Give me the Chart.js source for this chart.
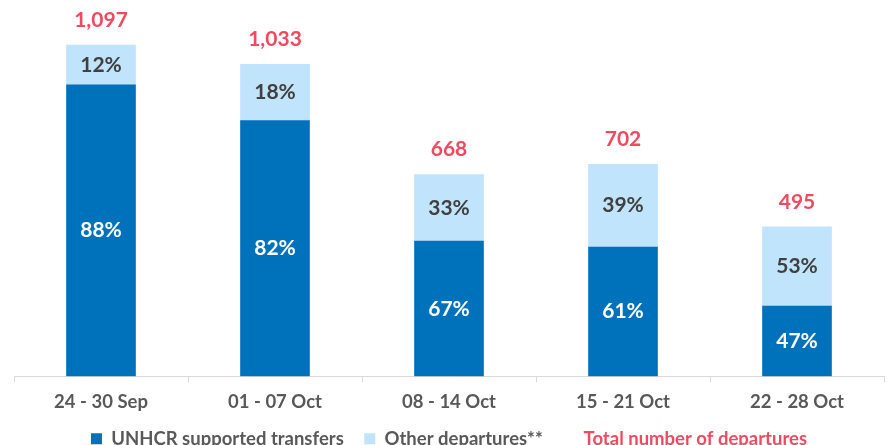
<!DOCTYPE html>
<html>
<head>
<meta charset="utf-8">
<script src="https://cdn.jsdelivr.net/npm/chart.js@4.4.1/dist/chart.umd.min.js"></script>
<style>
  html, body { margin: 0; padding: 0; background: #fff; overflow: hidden; }
  #wrap { position: relative; width: 895px; height: 458px; }
</style>
</head>
<body>
<div id="wrap"><canvas id="id-chartDepartures"></canvas></div>
<script>
var weekLabels = ["24 - 30 Sep", "01 - 07 Oct", "08 - 14 Oct", "15 - 21 Oct", "22 - 28 Oct"];
var totalDepartures = [1097, 1033, 668, 702, 495];
var unhcrShare = [88, 82, 67, 61, 47];
var otherShare = [12, 18, 33, 39, 53];

var darkBlue = "#0072BC";
var lightBlue = "#BFE4FC";
var red = "#EF4A60";
var textGrey = "#595959";

// stacked amounts come from the total times each share
var unhcrValues = totalDepartures.map(function(t, i) { return t * unhcrShare[i] / 100; });
var otherValues = totalDepartures.map(function(t, i) { return t * otherShare[i] / 100; });

var labelPlugin = {
  id: "barLabels",
  afterDatasetsDraw: function(chart) {
    var ctx = chart.ctx;
    ctx.save();
    ctx.font = "bold 21px Lato";
    ctx.textAlign = "center";
    ctx.textBaseline = "middle";
    var dark = chart.getDatasetMeta(0).data;
    var light = chart.getDatasetMeta(1).data;
    dark.forEach(function(bar, i) {
      ctx.fillStyle = "#ffffff";
      ctx.fillText(unhcrShare[i] + "%", bar.x, (bar.y + bar.base) / 2);
    });
    light.forEach(function(bar, i) {
      ctx.fillStyle = "#404040";
      ctx.fillText(otherShare[i] + "%", bar.x, (bar.y + bar.base) / 2);
      ctx.fillStyle = red;
      ctx.fillText(totalDepartures[i].toLocaleString("en-US"), bar.x, bar.y - 25);
    });
    ctx.restore();
  }
};

new Chart("id-chartDepartures", {
  type: "bar",
  data: {
    labels: weekLabels,
    datasets: [{
      label: "UNHCR supported transfers",
      backgroundColor: darkBlue,
      data: unhcrValues,
      barThickness: 69
    }, {
      label: "Other departures**",
      backgroundColor: lightBlue,
      data: otherValues,
      barThickness: 69
    }, {
      type: "line",
      label: "Total number of departures",
      data: totalDepartures,
      showLine: false,
      pointRadius: 0,
      borderColor: "transparent",
      backgroundColor: "transparent",
      stack: "total"
    }]
  },
  options: {
    responsive: true,
    maintainAspectRatio: false,
    animation: false,
    layout: {padding: {left: 14, right: 11, top: 14, bottom: 0}},
    plugins: {
      tooltip: {enabled: false},
      legend: {
        position: "bottom",
        labels: {
          font: {family: "Lato", size: 18.5, weight: "bold"},
          boxWidth: 11,
          boxHeight: 11,
          padding: 7,
          generateLabels: function(chart) {
            return chart.data.datasets.map(function(ds, i) {
              var isTotal = i === 2;
              return {
                text: isTotal ? ds.label : ds.label + "   ",
                fillStyle: isTotal ? "transparent" : ds.backgroundColor,
                strokeStyle: "transparent",
                lineWidth: 0,
                fontColor: isTotal ? red : textGrey,
                datasetIndex: i
              };
            });
          }
        }
      }
    },
    scales: {
      x: {
        stacked: true,
        grid: {
          display: true,
          drawOnChartArea: false,
          drawTicks: true,
          tickLength: 6,
          color: "#D9D9D9",
          offset: true
        },
        border: {color: "#D9D9D9", width: 1},
        ticks: {
          color: textGrey,
          font: {family: "Lato", size: 18.5, weight: "bold"},
          padding: 9
        }
      },
      y: {
        stacked: true,
        display: false,
        min: 0,
        max: 1200
      }
    }
  },
  plugins: [labelPlugin]
});
</script>
</body>
</html>
